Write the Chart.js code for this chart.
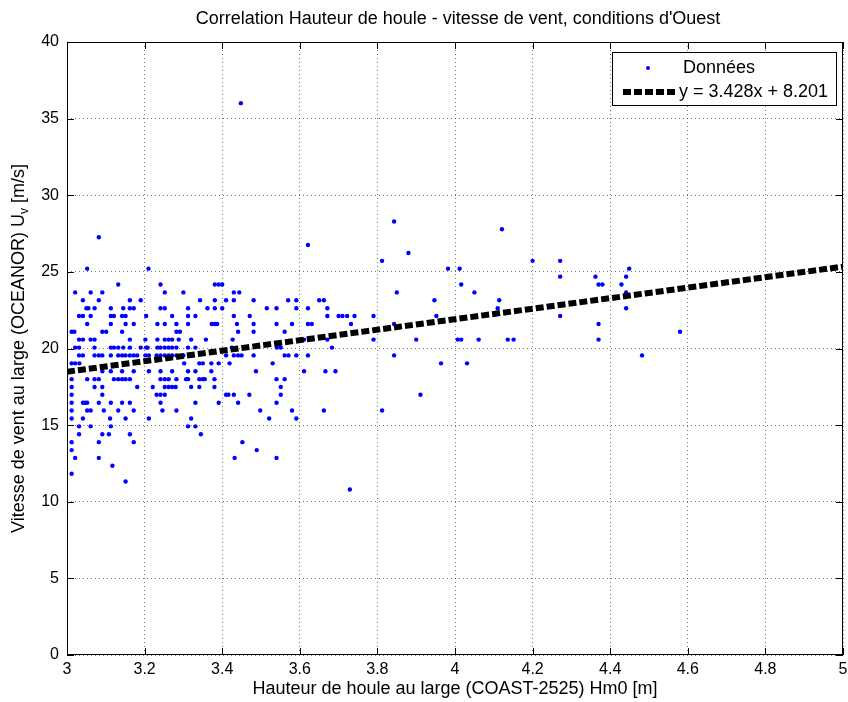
<!DOCTYPE html>
<html>
<head>
<meta charset="utf-8">
<script src="https://cdn.jsdelivr.net/npm/chart.js@4"></script>
<style>
  html, body { margin: 0; padding: 0; background: #fff; }
  #wrap { width: 848px; height: 702px; }
</style>
</head>
<body>
<div id="wrap"><canvas id="graph" width="848" height="702"></canvas></div>
<script>
const titre = "Correlation Hauteur de houle - vitesse de vent, conditions d'Ouest";
const titreX = 'Hauteur de houle au large (COAST-2525) Hm0 [m]';
const titreY = ['Vitesse de vent au large (OCEANOR) U', 'v', ' [m/s]'];
const legendeNoms = ['Données', 'y = 3.428x + 8.201'];

// droite de regression (coefficients de la legende)
const pente = 3.428;
const ordonnee = 8.201;
const bornesX = [3, 5];

// vitesses de vent (m/s), une ligne par niveau
const niveauxVent = [36.01, 28.29, 27.78, 27.26, 26.75, 26.23, 25.72, 25.21, 24.69, 24.18, 23.66, 23.15,
  22.63, 22.12, 21.6, 21.09, 20.58, 20.06, 19.55, 19.03, 18.52, 18.0, 17.49, 16.98, 16.46, 15.95,
  15.43, 14.92, 14.4, 13.89, 13.37, 12.86, 12.35, 11.83, 11.32, 10.8];

// hauteurs de houle Hm0 (m) pour chaque niveau ci-dessus
const houleParNiveau = [
  [3.448],
  [3.843],
  [4.121],
  [3.082],
  [3.621],
  [3.88],
  [3.812, 4.20, 4.271],
  [3.052, 3.21, 3.982, 4.012, 4.449],
  [4.271, 4.362, 4.441],
  [3.132, 3.241, 3.381, 3.391, 3.40, 4.016, 4.37, 4.38, 4.429],
  [3.021, 3.061, 3.091, 3.252, 3.30, 3.43, 3.444, 3.85, 4.05, 4.441],
  [3.041, 3.082, 3.162, 3.19, 3.343, 3.381, 3.41, 3.43, 3.481, 3.57, 3.591, 3.65, 3.662, 3.947, 4.114],
  [3.05, 3.055, 3.071, 3.113, 3.145, 3.162, 3.172, 3.241, 3.252, 3.312, 3.362, 3.381, 3.40, 3.515,
   3.54, 3.591, 3.621, 3.671, 4.11, 4.441],
  [3.031, 3.041, 3.061, 3.113, 3.121, 3.142, 3.151, 3.204, 3.271, 3.312, 3.331, 3.43, 3.471, 3.671,
   3.70, 3.71, 3.722, 3.741, 3.79, 3.952, 4.271],
  [3.052, 3.113, 3.151, 3.172, 3.233, 3.252, 3.282, 3.312, 3.373, 3.381, 3.387, 3.438, 3.481, 3.54,
   3.58, 3.621, 3.631, 3.732, 3.843, 4.37],
  [3.012, 3.019, 3.091, 3.101, 3.142, 3.282, 3.291, 3.441, 3.481, 3.561, 4.58],
  [3.031, 3.041, 3.061, 3.071, 3.162, 3.202, 3.233, 3.252, 3.262, 3.271, 3.288, 3.32, 3.358, 3.427,
   3.611, 3.671, 3.79, 3.90, 4.007, 4.016, 4.061, 4.136, 4.151, 4.37],
  [3.021, 3.031, 3.071, 3.113, 3.121, 3.132, 3.145, 3.162, 3.19, 3.204, 3.208, 3.233, 3.241, 3.252,
   3.262, 3.271, 3.282, 3.312, 3.331, 3.425, 3.541, 3.551, 3.683],
  [3.031, 3.041, 3.071, 3.082, 3.091, 3.113, 3.132, 3.142, 3.151, 3.162, 3.172, 3.181, 3.202, 3.211,
   3.231, 3.241, 3.252, 3.262, 3.271, 3.282, 3.30, 3.41, 3.43, 3.441, 3.45, 3.481, 3.561, 3.571,
   3.591, 3.621, 3.843, 4.482],
  [3.012, 3.021, 3.032, 3.302, 3.341, 3.35, 3.372, 3.391, 3.419, 3.53, 3.964, 4.031],
  [3.012, 3.091, 3.113, 3.142, 3.172, 3.211, 3.241, 3.271, 3.312, 3.331, 3.372, 3.487, 3.611, 3.666, 3.692],
  [3.012, 3.052, 3.071, 3.082, 3.121, 3.132, 3.142, 3.151, 3.162, 3.241, 3.252, 3.262, 3.282, 3.307,
   3.312, 3.341, 3.35, 3.355, 3.38, 3.54, 3.561],
  [3.012, 3.071, 3.091, 3.181, 3.221, 3.252, 3.262, 3.271, 3.28, 3.32, 3.341, 3.38, 3.551],
  [3.012, 3.091, 3.231, 3.241, 3.252, 3.41, 3.416, 3.43, 3.47, 3.551, 3.911],
  [3.012, 3.041, 3.047, 3.052, 3.082, 3.113, 3.142, 3.162, 3.241, 3.331, 3.391, 3.441, 3.54],
  [3.012, 3.052, 3.061, 3.095, 3.132, 3.172, 3.246, 3.282, 3.498, 3.58, 3.662, 3.812],
  [3.012, 3.041, 3.111, 3.151, 3.211, 3.32, 3.521, 3.591],
  [3.031, 3.061, 3.113, 3.312, 3.331],
  [3.031, 3.091, 3.108, 3.162, 3.345],
  [3.012, 3.082, 3.172, 3.452],
  [3.012, 3.489],
  [3.021, 3.082, 3.432, 3.54],
  [3.117],
  [3.012],
  [3.151],
  [3.729]
];

const police = '"Liberation Sans", Arial, sans-serif';

let donnees = [];
niveauxVent.forEach((v, i) => {
  houleParNiveau[i].forEach(h => donnees.push({ x: h, y: v }));
});

let droite = bornesX.map(x => ({ x: x, y: pente * x + ordonnee }));

// cadre, graduations interieures, titres et legende facon MATLAB
const habillage = {
  id: 'habillage',
  afterDraw(chart) {
    const ctx = chart.ctx;
    const a = chart.chartArea;
    const sx = chart.scales.x;
    const sy = chart.scales.y;
    ctx.save();

    ctx.strokeStyle = '#000';
    ctx.lineWidth = 1;
    ctx.strokeRect(Math.round(a.left) + 0.5, Math.round(a.top) + 0.5,
      Math.round(a.right - a.left) - 1, Math.round(a.bottom - a.top) - 1);

    ctx.beginPath();
    sx.ticks.forEach(t => {
      let px = Math.round(sx.getPixelForValue(t.value)) + 0.5;
      ctx.moveTo(px, a.bottom); ctx.lineTo(px, a.bottom - 7);
      ctx.moveTo(px, a.top); ctx.lineTo(px, a.top + 7);
    });
    sy.ticks.forEach(t => {
      let py = Math.round(sy.getPixelForValue(t.value)) + 0.5;
      ctx.moveTo(a.left, py); ctx.lineTo(a.left + 7, py);
      ctx.moveTo(a.right, py); ctx.lineTo(a.right - 7, py);
    });
    ctx.stroke();

    // titre
    ctx.fillStyle = '#000';
    ctx.font = '18px ' + police;
    ctx.textAlign = 'center';
    ctx.textBaseline = 'middle';
    ctx.fillText(titre, (a.left + a.right) / 2 + 3, 19);

    // titre Y avec indice
    ctx.translate(19, (a.top + a.bottom) / 2);
    ctx.rotate(-Math.PI / 2);
    ctx.textAlign = 'left';
    let f1 = '18px ' + police, f2 = '12px ' + police;
    ctx.font = f1; let w1 = ctx.measureText(titreY[0]).width; let w3 = ctx.measureText(titreY[2]).width;
    ctx.font = f2; let w2 = ctx.measureText(titreY[1]).width;
    let x0 = -(w1 + w2 + w3) / 2;
    ctx.font = f1; ctx.fillText(titreY[0], x0, 0);
    ctx.font = f2; ctx.fillText(titreY[1], x0 + w1, 6);
    ctx.font = f1; ctx.fillText(titreY[2], x0 + w1 + w2, 0);
    ctx.setTransform(1, 0, 0, 1, 0, 0);

    // legende
    let bx = 612, by = 52, bw = 224, bh = 53;
    ctx.fillStyle = '#fff';
    ctx.fillRect(bx, by, bw, bh);
    ctx.strokeStyle = '#000';
    ctx.lineWidth = 1;
    ctx.strokeRect(bx + 0.5, by + 0.5, bw, bh);
    ctx.fillStyle = '#0000ff';
    ctx.beginPath(); ctx.arc(648, 68, 2, 0, Math.PI * 2); ctx.fill();
    ctx.strokeStyle = '#000';
    ctx.lineWidth = 6;
    ctx.setLineDash([8, 3]);
    ctx.beginPath(); ctx.moveTo(623, 92); ctx.lineTo(676, 92); ctx.stroke();
    ctx.setLineDash([]);
    ctx.fillStyle = '#000';
    ctx.font = '18px ' + police;
    ctx.textAlign = 'left';
    ctx.fillText(legendeNoms[0], 683, 68);
    ctx.fillText(legendeNoms[1], 679, 92);
    ctx.restore();
  }
};

new Chart(document.getElementById('graph'), {
  type: 'scatter',
  data: {
    datasets: [
      {
        label: legendeNoms[0],
        data: donnees,
        pointStyle: 'circle',
        pointRadius: 2.2,
        pointBorderWidth: 0,
        pointBackgroundColor: '#0000ff',
        order: 2
      },
      {
        type: 'line',
        label: legendeNoms[1],
        data: droite,
        borderColor: '#000',
        borderWidth: 6,
        borderDash: [8, 3],
        pointRadius: 0,
        fill: false,
        order: 1
      }
    ]
  },
  options: {
    responsive: false,
    animation: false,
    layout: { padding: { top: 42, right: 5, left: 0, bottom: 0 } },
    plugins: {
      legend: { display: false },
      title: { display: false },
      tooltip: { enabled: false }
    },
    scales: {
      x: {
        type: 'linear',
        min: 3,
        max: 5,
        ticks: {
          stepSize: 0.2,
          padding: 5,
          color: '#000',
          font: { family: police, size: 16 },
          callback: v => String(Math.round(v * 10) / 10)
        },
        grid: { color: 'rgba(0,0,0,0.55)', drawTicks: false },
        border: { display: false, dash: [1, 3] },
        title: {
          display: true,
          text: titreX,
          color: '#000',
          font: { family: police, size: 18 },
          padding: { top: 0, bottom: 2 }
        },
        afterFit: s => { s.height = 47; s.paddingRight = 0; s.paddingLeft = 0; }
      },
      y: {
        min: 0,
        max: 40,
        ticks: {
          stepSize: 5,
          padding: 8,
          color: '#000',
          font: { family: police, size: 16 }
        },
        grid: { color: 'rgba(0,0,0,0.55)', drawTicks: false },
        border: { display: false, dash: [1, 3] },
        afterFit: s => { s.width = 67; s.paddingTop = 0; s.paddingBottom = 0; }
      }
    }
  },
  plugins: [habillage]
});
</script>
</body>
</html>
